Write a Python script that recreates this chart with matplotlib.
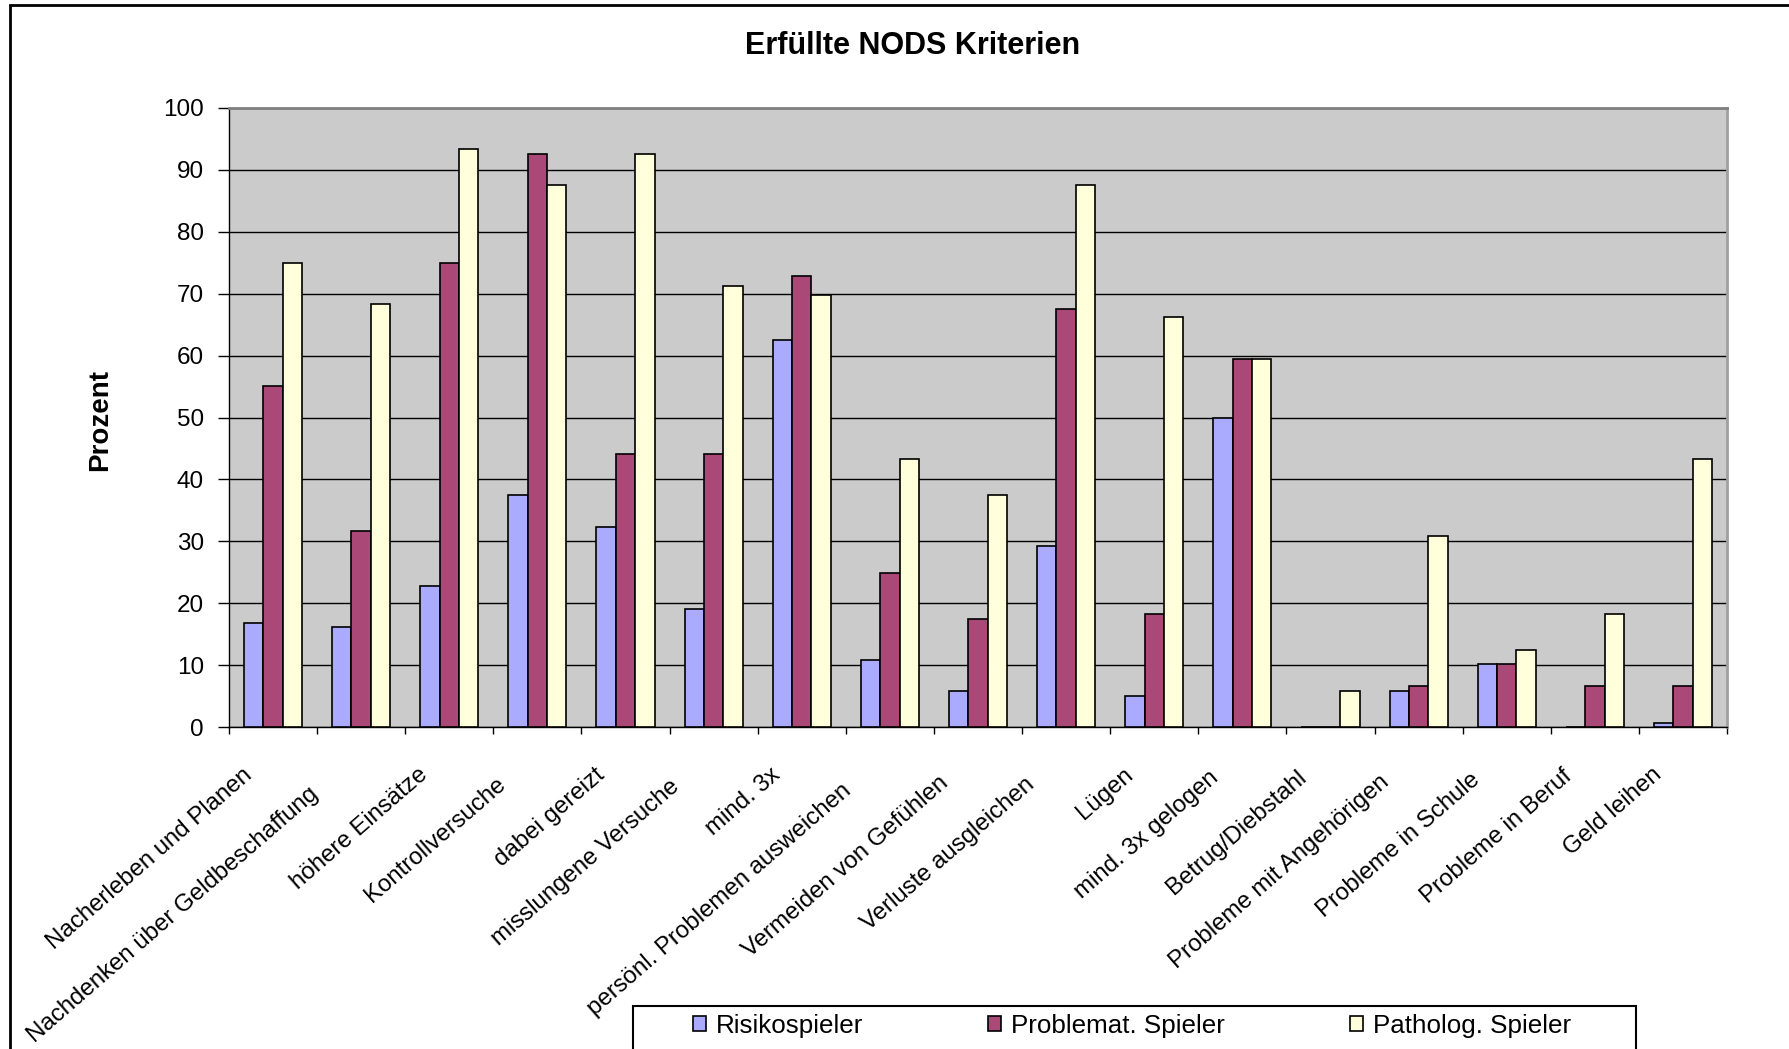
import matplotlib
matplotlib.use("Agg")
import matplotlib.pyplot as plt
import matplotlib.transforms as mtransforms
from matplotlib.patches import Patch, Rectangle
import numpy as np

plt.rcParams['font.family'] = ['Liberation Sans', 'DejaVu Sans']

# Daten
kategorien = [
    "Nacherleben und Planen",
    "Nachdenken über Geldbeschaffung",
    "höhere Einsätze",
    "Kontrollversuche",
    "dabei gereizt",
    "misslungene Versuche",
    "mind. 3x",
    "persönl. Problemen ausweichen",
    "Vermeiden von Gefühlen",
    "Verluste ausgleichen",
    "Lügen",
    "mind. 3x gelogen",
    "Betrug/Diebstahl",
    "Probleme mit Angehörigen",
    "Probleme in Schule",
    "Probleme in Beruf",
    "Geld leihen",
]
risiko = [16.8, 16.1, 22.7, 37.4, 32.3, 19.1, 62.5, 10.9, 5.8, 29.3, 5.0, 50.0, 0.0, 5.8, 10.2, 0.0, 0.7]
problemat = [55.1, 31.6, 75.0, 92.6, 44.1, 44.1, 72.8, 24.9, 17.5, 67.6, 18.3, 59.5, 0.0, 6.6, 10.2, 6.6, 6.6]
patholog = [75.0, 68.3, 93.4, 87.5, 92.6, 71.3, 69.8, 43.3, 37.4, 87.5, 66.2, 59.5, 5.8, 30.8, 12.4, 18.3, 43.3]
serien = ["Risikospieler", "Problemat. Spieler", "Patholog. Spieler"]
farben = ["#AAAAFF", "#AA4878", "#FFFFDC"]

# kleine Verschiebung der schraegen Beschriftungen entlang der Schrift (px)
versatz = [0, 22, 0, 11, 0, 13, 0, 18, 9, 11, 0, 3, 3, 8, 6, 2, 0]

W, H = 1789, 1049
fig = plt.figure(figsize=(W / 100, H / 100), dpi=100)
ax = fig.add_axes([229 / W, 1 - 727 / H, (1727 - 229) / W, (727 - 108) / H])
ax.set_facecolor("#CBCBCB")

x = np.arange(len(kategorien))
breite = 0.22
for i, (werte, farbe, name) in enumerate(zip([risiko, problemat, patholog], farben, serien)):
    ax.bar(x + (i - 1) * breite, werte, breite, color=farbe, edgecolor="black",
           linewidth=1.2, label=name, zorder=3)

ax.set_xlim(-0.5, len(kategorien) - 0.5)
ax.set_ylim(0, 100)
ax.set_yticks(range(0, 101, 10))
ax.yaxis.grid(True, color="black", linewidth=1.0)
ax.set_axisbelow(True)
ax.tick_params(axis="y", length=8, width=1, labelsize=17.5, pad=10)

ax.set_xticks(x)
ax.set_xticklabels([])
ax.tick_params(axis="x", which="major", length=0)
ax.set_xticks(np.arange(-0.5, len(kategorien), 1), minor=True)
ax.tick_params(axis="x", which="minor", length=5, width=1)

ax.spines["top"].set_color("#808080")
ax.spines["top"].set_linewidth(2)
ax.spines["right"].set_color("#A0A0A0")
ax.spines["right"].set_linewidth(2)
ax.spines["left"].set_linewidth(1)
ax.spines["bottom"].set_linewidth(1)

# Kategorien schraeg
winkel = 41
for xi, name, d in zip(x, kategorien, versatz):
    dx = -24 - d
    dy = -45 - d * np.tan(np.radians(winkel))
    trans = ax.get_xaxis_transform() + mtransforms.ScaledTranslation(dx / 100, dy / 100, fig.dpi_scale_trans)
    ax.text(xi, 0, name, transform=trans, rotation=winkel, ha="right", va="center",
            rotation_mode="anchor", fontsize=17.3)

fig.text(913 / W, 1 - 46 / H, "Erfüllte NODS Kriterien", ha="center", va="center",
         fontsize=22, fontweight="bold")
fig.text(100 / W, 1 - 420 / H, "Prozent", ha="center", va="center", rotation=90,
         fontsize=20, fontweight="bold")

# Rahmen
fig.patches.append(Rectangle((10 / W, -0.05), 1.1, 1 - 5 / H + 0.05, transform=fig.transFigure,
                             fill=False, edgecolor="black", linewidth=2))
fig.patches.append(Rectangle((633 / W, -0.05), (1636 - 633) / W, 0.05 + 1 - 1006 / H,
                             transform=fig.transFigure, fill=False, edgecolor="black", linewidth=1.5))

handles = [Patch(facecolor=f, edgecolor="black", linewidth=1.2) for f in farben]
fig.legend(handles, serien, loc="center", bbox_to_anchor=(1132 / W, 1 - 1026 / H), ncol=3,
           frameon=False, fontsize=18.7, handlelength=0.5, handleheight=0.5,
           handletextpad=0.4, columnspacing=4.8)

fig.savefig("out.png", dpi=100)
